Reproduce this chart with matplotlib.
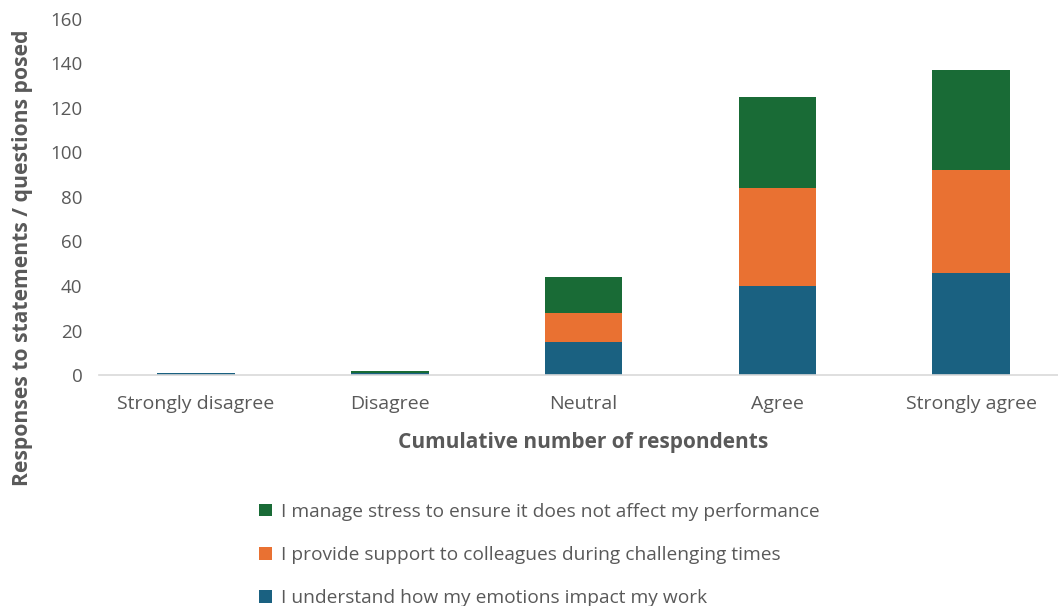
import matplotlib.pyplot as plt
import numpy as np

categories = ['Strongly disagree', 'Disagree', 'Neutral', 'Agree', 'Strongly agree']
emotions = [1, 1, 15, 40, 46]
support = [0, 0, 13, 44, 46]
stress = [0, 1, 16, 41, 45]

labels = ['I understand how my emotions impact my work',
          'I provide support to colleagues during challenging times',
          'I manage stress to ensure it does not affect my performance']
colors = ['#1a6181', '#e97132', '#196b36']
grey = '#595959'

plt.rcParams['font.family'] = ['Open Sans', 'DejaVu Sans']

fig = plt.figure(figsize=(10.58, 6.06), dpi=100)
ax = fig.add_axes([0.0936, 0.381, 0.916, 0.588])

x = np.arange(len(categories))
w = 0.4
bottom = np.zeros(len(categories))
handles = []
for vals, lab, col in zip([emotions, support, stress], labels, colors):
    b = ax.bar(x, vals, w, bottom=bottom, color=col, label=lab)
    handles.append(b)
    bottom += np.array(vals)

ax.set_xlim(-0.5, len(categories) - 0.5)
ax.set_ylim(0, 160)
ax.set_yticks(range(0, 161, 20))
ax.set_xticks(x)
ax.set_xticklabels(categories, fontsize=14)
ax.tick_params(axis='both', length=0, labelsize=13.5, colors=grey)
ax.tick_params(axis='x', pad=14, labelsize=14)
ax.tick_params(axis='y', pad=12)
for s in ['top', 'right', 'left']:
    ax.spines[s].set_visible(False)
ax.spines['bottom'].set_color('#d9d9d9')
ax.spines['bottom'].set_linewidth(1.2)

ax.set_xlabel('Cumulative number of respondents', fontsize=15, fontweight='bold',
              color=grey, labelpad=14)
ax.set_ylabel('Responses to statements / questions posed', fontsize=15.2,
              fontweight='bold', color=grey)
ax.yaxis.set_label_coords(-0.068, 0.33)

fig.legend(handles[::-1], labels[::-1], loc='upper center', bbox_to_anchor=(0.51, 0.199),
           frameon=False, fontsize=13.8, labelcolor=grey, labelspacing=1.32,
           handlelength=0.65, handleheight=0.65, handletextpad=0.5)

fig.savefig('out.png', dpi=100)
